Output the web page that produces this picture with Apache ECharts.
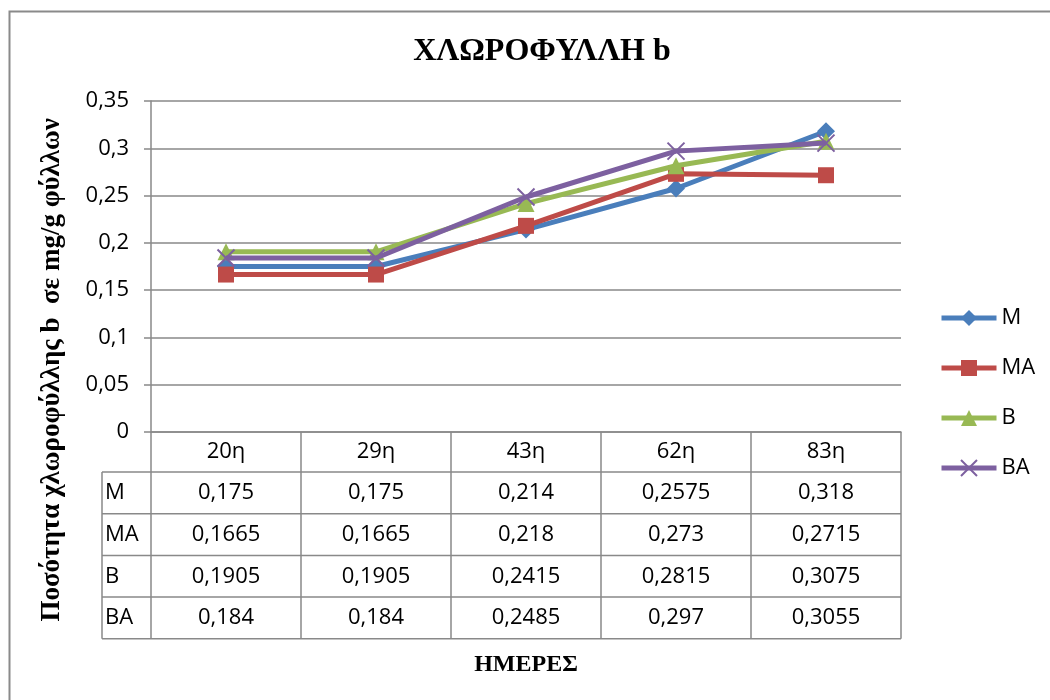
<!DOCTYPE html>
<html>
<head>
<meta charset="utf-8">
<script src="https://cdn.jsdelivr.net/npm/echarts@6/dist/echarts.min.js"></script>
<style>
  html, body { margin: 0; padding: 0; background: #fff; }
  #chart { width: 1050px; height: 700px; }
</style>
</head>
<body>
<div id="chart"></div>
<script>
// Sampling days (x categories)
const categories = ['20η', '29η', '43η', '62η', '83η'];

// Chlorophyll b content per treatment (mg/g leaf)
const valuesM  = [0.175, 0.175, 0.214, 0.2575, 0.318];
const valuesMA = [0.1665, 0.1665, 0.218, 0.273, 0.2715];
const valuesB  = [0.1905, 0.1905, 0.2415, 0.2815, 0.3075];
const valuesBA = [0.184, 0.184, 0.2485, 0.297, 0.3055];

const seriesNames = ['M', 'MA', 'B', 'BA'];
const seriesValues = [valuesM, valuesMA, valuesB, valuesBA];

// Value axis range
const yMin = 0;
const yMax = 0.35;
const yStep = 0.05;

const titleText = 'ΧΛΩΡΟΦΥΛΛΗ b';
const yTitle = 'Ποσότητα χλωροφύλλης b  σε mg/g φύλλων';
const xTitle = 'ΗΜΕΡΕΣ';

const colors = ['#4A7EBB', '#BE4B48', '#98B954', '#7D60A0'];
const symbols = ['diamond', 'rect', 'triangle', 'path://M0,0L10,10M10,0L0,10'];
const symbolSizes = [18, 16, 17, 17];

const gridColor = '#898989';
const labelFont = '"Open Sans", "Noto Sans", sans-serif';
const serifFont = '"Liberation Serif", "DejaVu Serif", serif';
const labelSize = 22;

const fmt = v => String(v).replace('.', ',');

const chart = echarts.init(document.getElementById('chart'), null, { renderer: 'canvas' });

const series = seriesNames.map((name, i) => ({
  name: name,
  type: 'line',
  data: seriesValues[i],
  symbol: symbols[i],
  symbolSize: symbolSizes[i],
  showAllSymbol: true,
  lineStyle: { color: colors[i], width: 5 },
  itemStyle: {
    color: colors[i],
    borderColor: colors[i],
    borderWidth: i === 3 ? 2 : 0
  },
  emphasis: { disabled: true },
  animation: false,
  z: 2 + i
}));

const option = {
  animation: false,
  backgroundColor: '#fff',
  title: {
    text: titleText,
    left: 537,
    top: 31,
    textAlign: 'center',
    textStyle: { fontFamily: serifFont, fontWeight: 'bold', fontSize: 32, color: '#000' }
  },
  grid: { left: 151, right: 149, top: 101, bottom: 268, containLabel: false },
  legend: {
    orient: 'vertical',
    left: 934,
    top: 302,
    itemWidth: 55,
    itemHeight: 20,
    itemGap: 28,
    data: seriesNames,
    lineStyle: { width: 5 },
    textStyle: { fontFamily: labelFont, fontSize: labelSize, color: '#000' }
  },
  xAxis: {
    type: 'category',
    data: categories,
    boundaryGap: true,
    axisLine: { show: true, lineStyle: { color: gridColor, width: 1.5 } },
    axisTick: { show: false },
    axisLabel: {
      margin: 9,
      fontFamily: labelFont,
      fontSize: labelSize,
      color: '#000'
    },
    name: xTitle,
    nameLocation: 'middle',
    nameGap: 221,
    nameTextStyle: { fontFamily: serifFont, fontWeight: 'bold', fontSize: 24, color: '#000' }
  },
  yAxis: {
    type: 'value',
    min: yMin,
    max: yMax,
    interval: yStep,
    axisLine: { show: true, lineStyle: { color: gridColor, width: 1.5 } },
    axisTick: { show: true, length: 7, lineStyle: { color: gridColor, width: 1.5 } },
    splitLine: { show: true, lineStyle: { color: gridColor, width: 1.5 } },
    axisLabel: {
      margin: 22,
      fontFamily: labelFont,
      fontSize: labelSize,
      color: '#000',
      formatter: v => fmt(+v.toFixed(2))
    }
  },
  series: series
};

chart.setOption(option);

// Data table below the plot, aligned to the category axis
const xc0 = chart.convertToPixel({ xAxisIndex: 0 }, 0);
const xc1 = chart.convertToPixel({ xAxisIndex: 0 }, 1);
const colW = xc1 - xc0;
const tLeft = xc0 - colW / 2;
const tRight = tLeft + colW * categories.length;
const tTop = chart.convertToPixel({ yAxisIndex: 0 }, 0);
const headH = 40;
const rowH = 41.7;
const nameColW = 49;
const nameLeft = tLeft - nameColW;
const tBottom = tTop + headH + rowH * seriesNames.length;

const lineStyle = { stroke: gridColor, lineWidth: 1.5 };
const graphics = [];

// outer chart frame
graphics.push({
  type: 'rect',
  shape: { x: 9.5, y: 11.5, width: 1200, height: 900 },
  style: { fill: 'none', stroke: '#8a8a8a', lineWidth: 2 },
  silent: true, z: 0
});

// horizontal rules
for (let r = 0; r <= seriesNames.length; r++) {
  const y = tTop + headH + r * rowH;
  graphics.push({ type: 'line', shape: { x1: nameLeft, y1: y, x2: tRight, y2: y }, style: lineStyle, silent: true });
}
// vertical rules
graphics.push({ type: 'line', shape: { x1: nameLeft, y1: tTop + headH, x2: nameLeft, y2: tBottom }, style: lineStyle, silent: true });
for (let c = 0; c <= categories.length; c++) {
  const x = tLeft + c * colW;
  graphics.push({ type: 'line', shape: { x1: x, y1: tTop, x2: x, y2: tBottom }, style: lineStyle, silent: true });
}
// cell texts
seriesNames.forEach((name, r) => {
  const yMid = tTop + headH + r * rowH + rowH / 2;
  graphics.push({
    type: 'text', silent: true,
    style: { text: name, x: nameLeft + 3, y: yMid, textVerticalAlign: 'middle', fontFamily: labelFont, fontSize: labelSize, fill: '#000' }
  });
  seriesValues[r].forEach((v, c) => {
    graphics.push({
      type: 'text', silent: true,
      style: { text: fmt(v), x: tLeft + (c + 0.5) * colW, y: yMid, textAlign: 'center', textVerticalAlign: 'middle', fontFamily: labelFont, fontSize: labelSize, fill: '#000' }
    });
  });
});

// rotated value-axis title, centred on plot + table
graphics.push({
  type: 'text', silent: true,
  x: 52, y: (101 + tBottom) / 2,
  rotation: Math.PI / 2,
  style: { text: yTitle, textAlign: 'center', textVerticalAlign: 'middle', fontFamily: serifFont, fontWeight: 'bold', fontSize: 27, fill: '#000' }
});

chart.setOption({ graphic: { elements: graphics } });
</script>
</body>
</html>
